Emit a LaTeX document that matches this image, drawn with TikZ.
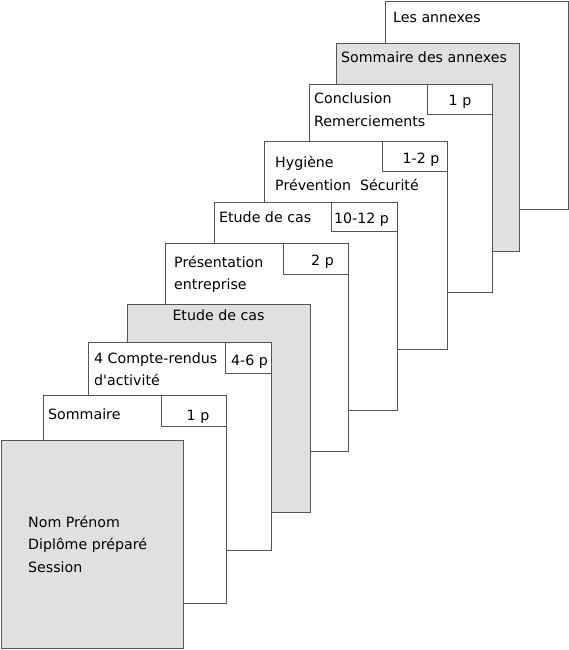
\documentclass[tikz,border=0pt]{standalone}
\usepackage{fontspec}
\setmainfont{DejaVu Sans}
\usepackage{xcolor}
\usepackage{tikz}
\usetikzlibrary{positioning}

\definecolor{pagegrey}{HTML}{E0E0E0}
\definecolor{edgegrey}{HTML}{555555}

\begin{document}
\begin{tikzpicture}[x=1pt, y=-1pt,
  page/.style={draw=edgegrey, line width=1pt, fill=white, anchor=north west,
    inner sep=0pt, minimum width=183pt, minimum height=208pt},
  greypage/.style={page, fill=pagegrey},
  tab/.style={draw=edgegrey, line width=1pt, fill=white, anchor=north east,
    inner sep=0pt, minimum width=65pt, minimum height=30pt},
  txt/.style={anchor=base west, inner sep=0pt, font=\fontsize{14.2}{17}\selectfont},
  pnum/.style={anchor=base, inner sep=0pt, font=\fontsize{14.2}{17}\selectfont}]
  \useasboundingbox (0,0) rectangle (569,650);

  % Back pages
  \node[page] (annexes) at (385,1) {};
  \node[txt] (annexestxt) at (393,23) {Les annexes};

  \node[greypage] (sommannexes) at (336,43) {};
  \node[txt] (sommannexestxt) at (341,63) {Sommaire des annexes};

  \node[page] (concl) at (309,84) {};
  \node[tab] (concltab) at (concl.north east) {};
  \node[txt] (concltxt) at (314,104) {Conclusion};
  \node[txt] (remtxt) at (314,126) {Remerciements};
  \node[pnum] (conclp) at (460,106) {1 p};

  \node[page] (hyg) at (264,141) {};
  \node[tab] (hygtab) at (hyg.north east) {};
  \node[txt] (hygtxt) at (275,167) {Hygiène};
  \node[txt] (prevtxt) at (275,190) {Prévention~~Sécurité};
  \node[pnum] (hygp) at (421,163) {1-2 p};

  % Middle pages
  \node[page] (etude) at (214,202) {};
  \node[tab, minimum width=66pt, minimum height=29pt] (etudetab) at (etude.north east) {};
  \node[txt] (etudetxt) at (219,222) {Etude de cas};
  \node[pnum] (etudep) at (361.5,223) {10-12 p};

  \node[page] (pres) at (165,243) {};
  \node[tab, minimum height=31pt] (prestab) at (pres.north east) {};
  \node[txt] (prestxt) at (174,267) {Présentation};
  \node[txt] (entrtxt) at (174,289) {entreprise};
  \node[pnum] (presp) at (322.5,265) {2 p};

  \node[greypage] (etudeg) at (127,304) {};
  \node[pnum] (etudegtxt) at (218.5,320) {Etude de cas};

  \node[page] (compte) at (88,342) {};
  \node[tab, minimum width=46pt, minimum height=31pt] (comptetab) at (compte.north east) {};
  \node[txt] (comptetxt) at (94,363) {4 Compte-rendus};
  \node[txt] (acttxt) at (94,385) {d\textquotesingle activité};
  \node[pnum] (comptep) at (249.5,365) {4-6 p};

  % Front pages
  \node[page] (somm) at (43,395) {};
  \node[tab, minimum height=31pt] (sommtab) at (somm.north east) {};
  \node[txt] (sommtxt) at (48,419) {Sommaire};
  \node[pnum] (sommp) at (198,420) {1 p};

  \node[greypage, minimum width=182pt] (cover) at (1,440) {};
  \node[txt] (nomtxt) at (28,527) {Nom Prénom};
  \node[txt] (diptxt) at (28,549) {Diplôme préparé};
  \node[txt] (sesstxt) at (28,572) {Session};
\end{tikzpicture}
\end{document}
